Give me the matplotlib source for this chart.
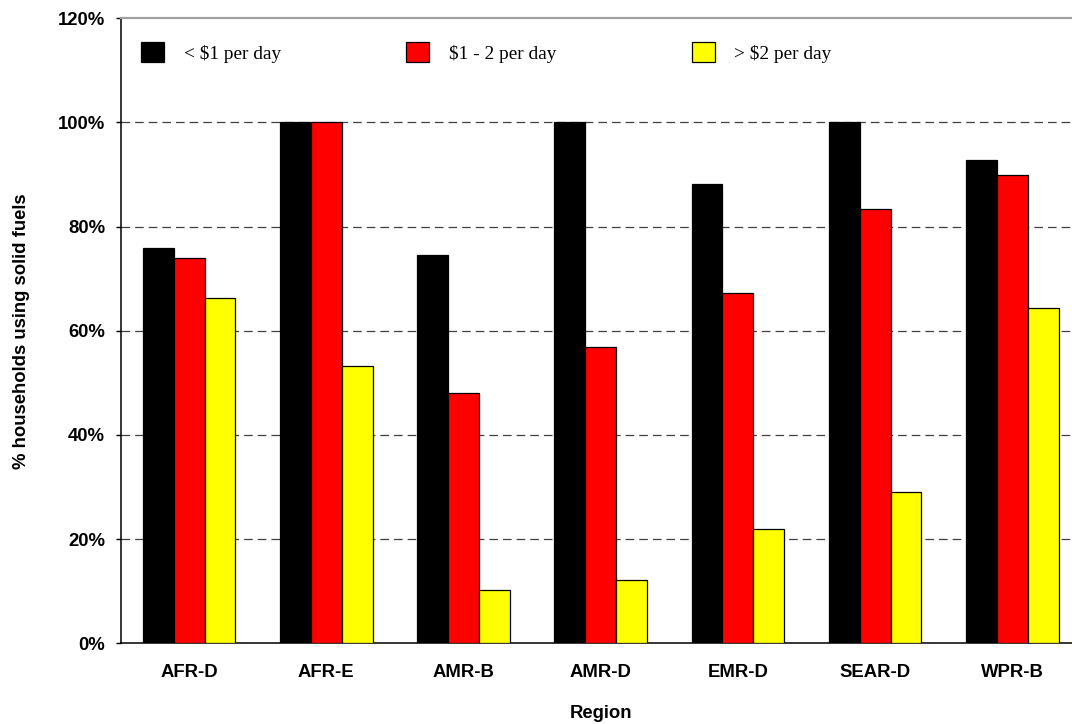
import matplotlib
matplotlib.use("Agg")
import matplotlib.pyplot as plt
import numpy as np
from matplotlib.ticker import FuncFormatter

categories = ['AFR-D', 'AFR-E', 'AMR-B', 'AMR-D', 'EMR-D', 'SEAR-D', 'WPR-B']
under_1 = [75.9, 100.0, 74.6, 100.0, 88.2, 100.0, 92.8]
one_to_2 = [74.0, 100.0, 48.0, 56.9, 67.2, 83.3, 90.0]
over_2 = [66.3, 53.3, 10.3, 12.2, 21.9, 29.1, 64.3]
series_labels = ['< $1 per day', '$1 - 2 per day', '> $2 per day']
series_colors = ['#000000', '#FF0000', '#FFFF00']
y_ticks = [0, 20, 40, 60, 80, 100, 120]

W, H = 1072, 724
fig = plt.figure(figsize=(W / 100, H / 100), dpi=100)
ax_left, ax_right = 120.5, 1080.9
ax_top, ax_bot = 18.3, 643.3
ax = fig.add_axes([ax_left / W, 1 - ax_bot / H, (ax_right - ax_left) / W, (ax_bot - ax_top) / H])

x = np.arange(len(categories))
bw = 0.2245
containers = []
for i, (vals, col) in enumerate(zip([under_1, one_to_2, over_2], series_colors)):
    c = ax.bar(x + (i - 1) * bw, vals, width=bw, color=col, edgecolor='black',
               linewidth=0.9, zorder=3, label=series_labels[i])
    containers.append(c)

ax.set_xlim(-0.5, len(categories) - 0.5)
ax.set_ylim(0, 120)
ax.set_yticks(y_ticks)
ax.yaxis.set_major_formatter(FuncFormatter(lambda v, p: f"{int(v)}%"))
ax.set_xticks(x)
ax.set_xticklabels(categories)

for lab in ax.get_xticklabels() + ax.get_yticklabels():
    lab.set_fontfamily('Liberation Sans')
    lab.set_fontweight('bold')
    lab.set_fontsize(13.3)

ax.tick_params(axis='x', length=0, pad=15)
ax.tick_params(axis='y', length=3.6, width=1, pad=7.5, direction='out', color='black')

for yv in y_ticks[1:-1]:
    ax.axhline(yv, color='#404040', linewidth=0.9, linestyle=(0, (6.9, 4.0)), zorder=1)

ax.spines['top'].set_color('#a0a0a0')
ax.spines['top'].set_linewidth(1.6)
ax.spines['right'].set_color('#a0a0a0')
ax.spines['right'].set_linewidth(1.6)
ax.spines['left'].set_color('black')
ax.spines['left'].set_linewidth(1.1)
ax.spines['bottom'].set_color('black')
ax.spines['bottom'].set_linewidth(1.1)

fig.text(21.5 / W, 1 - ((ax_top + ax_bot) / 2) / H, '% households using solid fuels',
         rotation=90, ha='center', va='center', fontfamily='Liberation Sans',
         fontweight='bold', fontsize=13.3)
fig.text(601 / W, 1 - 713 / H, 'Region', ha='center', va='center',
         fontfamily='Liberation Sans', fontweight='bold', fontsize=13.3)

# legend entries, one per series, placed across the top of the plot
handle_x = [141.2, 406.3, 691.8]
fs = 13.9
fs_px = fs * 100 / 72
legends = []
for i in range(3):
    leg = ax.legend(handles=[containers[i]], labels=[series_labels[i]],
                    loc='center left', bbox_to_anchor=(handle_x[i] / W, 1 - 52.5 / H),
                    bbox_transform=fig.transFigure, frameon=False,
                    prop=dict(family='Liberation Serif', size=fs),
                    handlelength=23 / fs_px, handleheight=23 / fs_px,
                    handletextpad=19.6 / fs_px, borderpad=0, borderaxespad=0)
    legends.append(leg)
for leg in legends[:-1]:
    ax.add_artist(leg)

fig.savefig('out.png', dpi=100)
